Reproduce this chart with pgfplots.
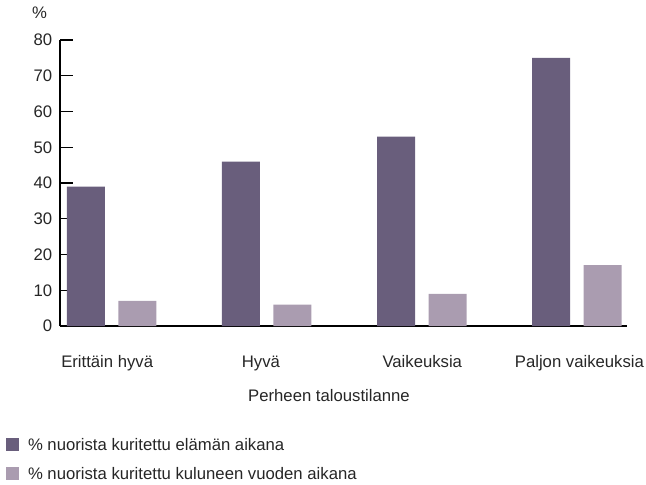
\documentclass[border=0pt]{standalone}
\usepackage{fontspec}
\setmainfont{Liberation Sans}
\usepackage{pgfplots}
\pgfplotsset{compat=1.18}
\definecolor{darkp}{HTML}{695E7C}
\definecolor{lightp}{HTML}{AA9CB0}
\definecolor{txt}{HTML}{262626}
\newcommand{\chartfont}{\fontsize{16.7bp}{20bp}\selectfont}
\begin{document}
\begin{tikzpicture}
\begin{axis}[
 scale only axis, width=567bp, height=286bp,
 xmin=-0.332, xmax=3.323, ymin=0, ymax=80,
 axis lines*=left,
 axis line style={line width=1.1bp, black},
 ybar=13.5bp, bar width=38bp,
 xtick={0,1,2,3},
 xticklabels={\hspace*{-8.6bp}Erittäin hyvä, \hspace*{-11.4bp}Hyvä, \hspace*{1bp}Vaikeuksia, \hspace*{5bp}Paljon vaikeuksia},
 x tick style={draw=none},
 ytick={0,10,...,80},
 y tick style={line width=1.1bp, black},
 tick align=inside, major tick length=13bp,
 /pgf/number format/assume math mode=true,
 tick label style={font=\chartfont, text=txt},
 xticklabel style={anchor=base, yshift=-41bp},
 yticklabel style={xshift=-4.4bp},
 xlabel={Perheen taloustilanne},
 xlabel style={at={(axis description cs:0.4744,-0.2647)}, anchor=base, font=\chartfont, text=txt},
 ylabel={\%},
 ylabel style={rotate=-90, at={(axis description cs:-0.0362,1.0759)}, anchor=base, font=\chartfont, text=txt},
 legend cell align=left,
 legend style={at={(axis description cs:-0.0952,-0.3916)}, anchor=north west, draw=none, fill=none,
   inner sep=0pt, outer sep=0pt, font=\chartfont, text=txt, row sep=12bp, column sep=0pt,
   nodes={inner sep=0pt, text height=13bp, text depth=4bp}},
 legend image code/.code={\fill[#1,draw=none] (0bp,-4.5bp) rectangle (13bp,8.5bp); \path (22bp,0bp);},
]
\addplot[fill=darkp, draw=none] coordinates {(0,39) (1,46) (2,53) (3,75)};
\addplot[fill=lightp, draw=none] coordinates {(0,7) (1,6) (2,9) (3,17)};
\legend{\% nuorista kuritettu elämän aikana, \% nuorista kuritettu kuluneen vuoden aikana}
\end{axis}
\pgfresetboundingbox
\path[use as bounding box] (-60bp,-159bp) rectangle (586bp,326bp);
\end{tikzpicture}
\end{document}
